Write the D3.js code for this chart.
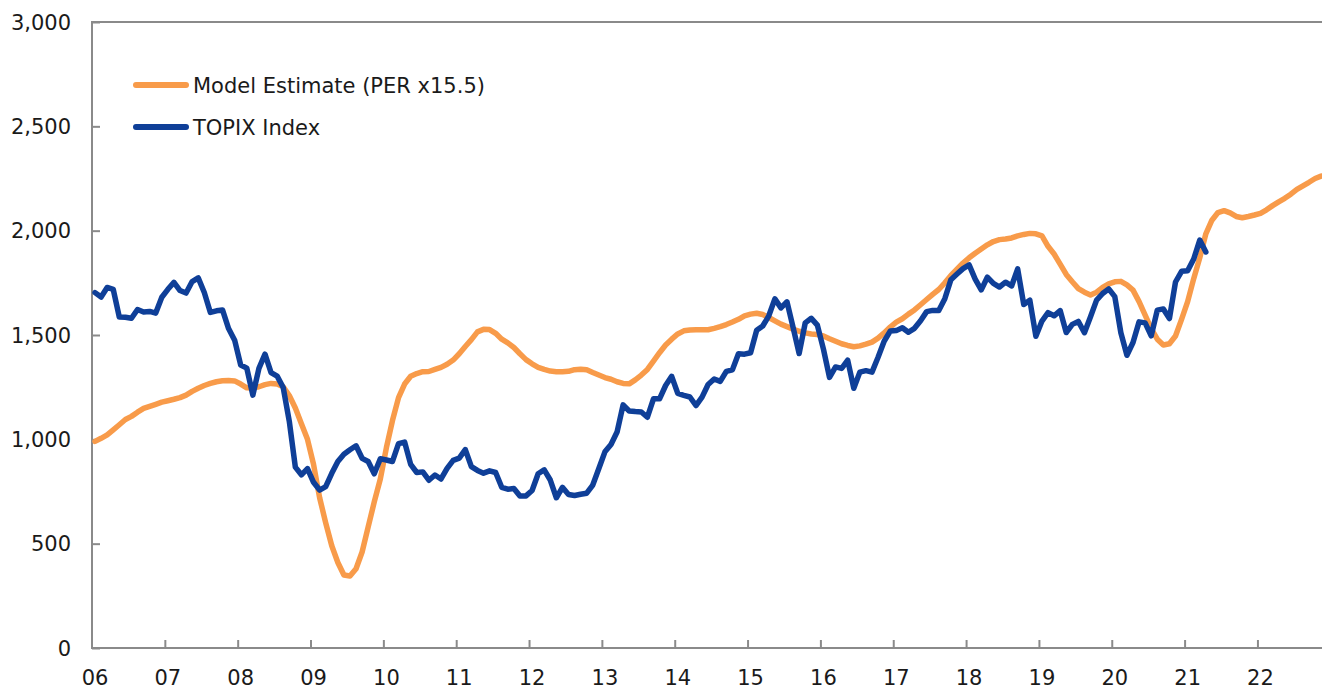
<!DOCTYPE html>
<html>
<head>
<meta charset="utf-8">
<script src="https://cdn.jsdelivr.net/npm/d3@7"></script>
<style>
  body { margin: 0; background: #fff; }
  svg { display: block; }
  text { font-family: "DejaVu Sans", Verdana, sans-serif; fill: #1a1a1a; }
</style>
</head>
<body>
<div id="d3-container"></div>
<script>
// monthly, Jan 2006 onwards
const startYear = 2006;
const yearLabels = ["06","07","08","09","10","11","12","13","14","15","16","17","18","19","20","21","22"];
const yTicks = [0, 500, 1000, 1500, 2000, 2500, 3000];
const seriesNames = ["Model Estimate (PER x15.5)", "TOPIX Index"];

const modelEstimate = [
  990,1005,1021,1045,1070,1095,1110,1130,1148,1158,1168,1178,
  1185,1192,1200,1212,1230,1245,1258,1268,1276,1281,1282,1280,
  1265,1247,1246,1252,1262,1268,1265,1252,1210,1150,1075,1000,
  880,720,600,490,410,350,345,380,460,580,700,810,
  960,1090,1200,1265,1302,1315,1324,1325,1335,1345,1360,1380,
  1410,1445,1478,1515,1527,1526,1508,1480,1462,1440,1410,1382,
  1362,1345,1335,1327,1324,1324,1326,1334,1336,1333,1320,1308,
  1296,1288,1276,1268,1266,1285,1308,1335,1375,1415,1452,1480,
  1505,1520,1524,1525,1525,1525,1532,1540,1550,1562,1575,1592,
  1600,1604,1598,1584,1568,1552,1540,1528,1518,1510,1505,1502,
  1495,1482,1470,1458,1450,1444,1448,1456,1466,1485,1510,1538,
  1562,1578,1600,1620,1645,1670,1695,1718,1750,1785,1815,1845,
  1870,1892,1912,1932,1948,1957,1960,1965,1975,1982,1987,1985,
  1975,1925,1888,1840,1790,1755,1722,1705,1692,1705,1728,1745,
  1755,1757,1740,1715,1660,1595,1530,1480,1452,1458,1495,1575,
  1660,1770,1870,1985,2050,2087,2096,2085,2068,2062,2068,2075,
  2083,2100,2120,2138,2155,2175,2198,2215,2232,2250,2262
];

const topix = [
  1703,1682,1728,1719,1586,1585,1580,1622,1610,1613,1605,1681,
  1719,1752,1713,1701,1756,1774,1704,1608,1616,1620,1531,1475,
  1356,1341,1212,1340,1408,1320,1303,1248,1087,867,830,860,
  794,757,773,837,894,929,950,969,909,894,835,907,
  901,894,979,987,880,841,844,804,829,810,861,899,
  910,951,869,851,838,849,841,770,761,764,728,729,
  755,835,854,805,720,770,736,731,737,742,781,860,
  940,975,1035,1165,1136,1133,1131,1106,1194,1194,1258,1302,
  1220,1211,1203,1162,1202,1263,1289,1278,1326,1333,1410,1408,
  1415,1523,1543,1592,1673,1630,1659,1537,1411,1558,1580,1547,
  1432,1297,1347,1340,1379,1245,1322,1329,1322,1393,1470,1519,
  1521,1535,1513,1532,1568,1612,1618,1617,1674,1765,1792,1818,
  1836,1768,1716,1777,1747,1730,1753,1735,1817,1646,1667,1494,
  1567,1607,1592,1617,1512,1551,1565,1511,1587,1667,1699,1721,
  1684,1511,1403,1464,1563,1558,1496,1619,1625,1579,1754,1805,
  1808,1864,1955,1898
];

const colors = ["#F89B4A", "#0F3F98"];

const width = 1322;
const height = 689;
const margin = {top: 22, left: 92, bottom: 41};
const monthW = 6.07;
const nMonths = modelEstimate.length;

const svg = d3.select('#d3-container')
  .append('svg')
  .attr('width', width)
  .attr('height', height);

const x = d3.scaleLinear()
  .domain([0, nMonths])
  .range([margin.left, margin.left + nMonths * monthW]);

const y = d3.scaleLinear()
  .domain([0, 3000])
  .range([height - margin.bottom, margin.top]);

// axes
const axisColor = "#8a8a8a";

const yAxis = svg.append("g")
  .attr("transform", `translate(${margin.left},0)`)
  .call(d3.axisRight(y).tickValues(yTicks).tickSize(8).tickFormat(""));
yAxis.select(".domain").remove();
yAxis.selectAll("line").attr("stroke", axisColor).attr("stroke-width", 2);

svg.append("g")
  .selectAll("text")
  .data(yTicks)
  .join("text")
  .attr("x", 71)
  .attr("y", d => y(d))
  .attr("dy", "0.36em")
  .attr("text-anchor", "end")
  .attr("font-size", "21px")
  .text(d => d3.format(",")(d));

const xTickIdx = d3.range(1, yearLabels.length).map(k => k * 12);
const xAxis = svg.append("g")
  .attr("transform", `translate(0,${y(0)})`)
  .call(d3.axisTop(x).tickValues(xTickIdx).tickSize(8).tickFormat(""));
xAxis.select(".domain").remove();
xAxis.selectAll("line").attr("stroke", axisColor).attr("stroke-width", 2);

svg.append("g")
  .selectAll("text")
  .data(yearLabels)
  .join("text")
  .attr("x", (d, k) => x(k * 12 + 0.5))
  .attr("y", 685)
  .attr("text-anchor", "middle")
  .attr("font-size", "21px")
  .text(d => d);

// frame lines: left, bottom, top
svg.append("line")
  .attr("x1", margin.left).attr("x2", margin.left)
  .attr("y1", y(3000)).attr("y2", y(0))
  .attr("stroke", axisColor).attr("stroke-width", 2);
svg.append("line")
  .attr("x1", margin.left - 1).attr("x2", width)
  .attr("y1", y(0)).attr("y2", y(0))
  .attr("stroke", axisColor).attr("stroke-width", 2);
svg.append("line")
  .attr("x1", margin.left - 1).attr("x2", width)
  .attr("y1", y(3000)).attr("y2", y(3000))
  .attr("stroke", axisColor).attr("stroke-width", 2);

// lines
const line = d3.line()
  .x((d, i) => x(i + 0.5))
  .y(d => y(d));

[modelEstimate, topix].forEach((s, k) => {
  svg.append("path")
    .datum(s)
    .attr("fill", "none")
    .attr("stroke", colors[k])
    .attr("stroke-width", 5.5)
    .attr("stroke-linejoin", "round")
    .attr("stroke-linecap", "round")
    .attr("d", line);
});

// legend
const legendY = [85, 127];
seriesNames.forEach((name, k) => {
  svg.append("line")
    .attr("x1", 136).attr("x2", 186)
    .attr("y1", legendY[k]).attr("y2", legendY[k])
    .attr("stroke", colors[k])
    .attr("stroke-width", 6)
    .attr("stroke-linecap", "round");
  svg.append("text")
    .attr("x", 193)
    .attr("y", legendY[k])
    .attr("dy", "0.36em")
    .attr("font-size", "21px")
    .text(name);
});
</script>
</body>
</html>
